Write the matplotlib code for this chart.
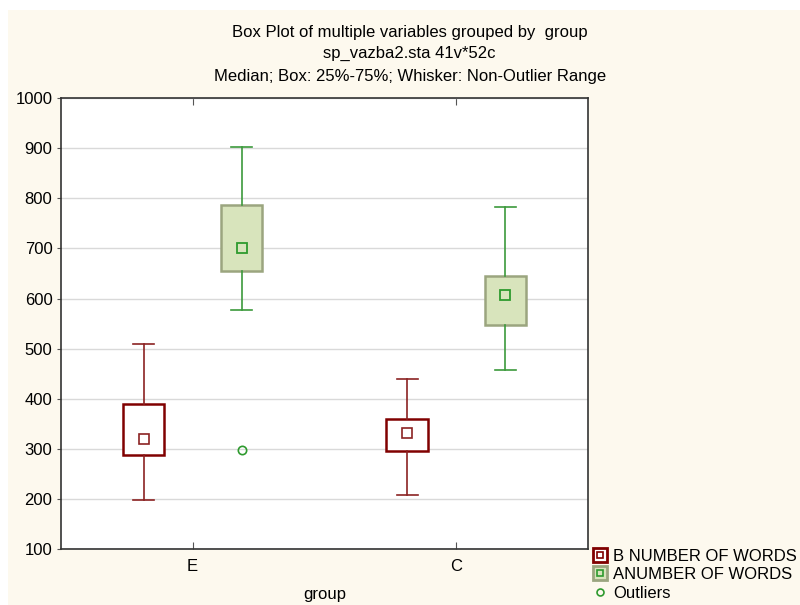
import matplotlib.pyplot as plt
from matplotlib.lines import Line2D
from matplotlib.patches import Rectangle
from matplotlib.legend_handler import HandlerTuple
import numpy as np

plt.rcParams['font.family'] = ['Liberation Sans', 'DejaVu Sans']

groups = ["E", "C"]
# B NUMBER OF WORDS: whisker low, Q1, median, Q3, whisker high
b_low = [198, 208]
b_q1 = [288, 297]
b_med = [321, 331]
b_q3 = [390, 360]
b_high = [510, 440]
# ANUMBER OF WORDS
a_low = [578, 458]
a_q1 = [655, 548]
a_med = [701, 608]
a_q3 = [787, 645]
a_high = [903, 783]
a_outliers = [[299], []]

red = "#800000"
green = "#2E9A2E"
fs = 12

fig = plt.figure(figsize=(8, 6.05), dpi=100, facecolor="white")
# cream panel (white strip on top and left as in the original export)
fig.patches.append(Rectangle((8 / 800, 0), 1, 1 - 10 / 605,
                             transform=fig.transFigure, facecolor="#FDF9EE",
                             edgecolor="none", zorder=-10))
ax = fig.add_axes([0.076, 0.092, 0.659, 0.746])
ax.set_facecolor("white")

def make_stats(low, q1, med, q3, high, fl=None):
    out = []
    for i in range(len(low)):
        out.append(dict(whislo=low[i], q1=q1[i], med=med[i], q3=q3[i],
                        whishi=high[i], mean=med[i],
                        fliers=fl[i] if fl else []))
    return out

x = np.arange(len(groups))
off = 0.186
w = 0.157

ax.bxp(make_stats(b_low, b_q1, b_med, b_q3, b_high), positions=x - off,
       widths=w, patch_artist=True, showmeans=True,
       boxprops=dict(facecolor="white", edgecolor=red, linewidth=1.8),
       whiskerprops=dict(color="#8B2222", linewidth=1.2),
       capprops=dict(color="#8B2222", linewidth=1.2),
       medianprops=dict(visible=False),
       meanprops=dict(marker="s", markersize=7, markerfacecolor="white",
                      markeredgecolor="#8B2222", markeredgewidth=1.2),
       capwidths=0.08, manage_ticks=False)

ax.bxp(make_stats(a_low, a_q1, a_med, a_q3, a_high, a_outliers),
       positions=x + off, widths=w, patch_artist=True, showmeans=True,
       boxprops=dict(facecolor="#D8E4BC", edgecolor="#9BA57F", linewidth=1.8),
       whiskerprops=dict(color="#3C9A3C", linewidth=1.2),
       capprops=dict(color="#3C9A3C", linewidth=1.2),
       medianprops=dict(visible=False),
       meanprops=dict(marker="s", markersize=7, markerfacecolor="#D8E4BC",
                      markeredgecolor=green, markeredgewidth=1.3),
       flierprops=dict(marker="o", markersize=6, markerfacecolor="none",
                       markeredgecolor=green, markeredgewidth=1.2),
       capwidths=0.08, manage_ticks=False)

ax.set_xlim(-0.5, 1.5)
ax.set_ylim(100, 1000)
ax.set_yticks(np.arange(100, 1001, 100))
ax.set_xticks(x)
ax.set_xticklabels(groups)
ax.yaxis.grid(True, color="#D9D9D9", linewidth=1)
ax.set_axisbelow(True)
ax.tick_params(axis="y", direction="out", length=3, pad=3, labelsize=fs,
               color="#555555")
ax.tick_params(axis="x", direction="in", length=5, top=True, labelsize=fs,
               pad=7, color="#555555")
for s in ax.spines.values():
    s.set_color("#333333")
    s.set_linewidth(1.2)
ax.set_xlabel("group", fontsize=fs, labelpad=9)

fig.text(0.512, 0.947, "Box Plot of multiple variables grouped by  group",
         ha="center", va="center", fontsize=fs)
fig.text(0.512, 0.912, "sp_vazba2.sta 41v*52c", ha="center", va="center",
         fontsize=fs)
fig.text(0.512, 0.874, "Median; Box: 25%-75%; Whisker: Non-Outlier Range",
         ha="center", va="center", fontsize=fs)

def sq(size, face, edge, lw):
    return Line2D([], [], linestyle="none", marker="s", markersize=size,
                  markerfacecolor=face, markeredgecolor=edge,
                  markeredgewidth=lw)

handles = [
    (sq(10, "white", red, 2), sq(4.5, "white", red, 1.2)),
    (sq(10, "#D8E4BC", "#9BA57F", 2), sq(4.5, "#D8E4BC", green, 1.2)),
    Line2D([], [], linestyle="none", marker="o", markersize=5,
           markerfacecolor="none", markeredgecolor=green, markeredgewidth=1.2),
]
labels = ["B NUMBER OF WORDS", "ANUMBER OF WORDS", "Outliers"]
fig.legend(handles, labels, loc="lower left", bbox_to_anchor=(0.727, -0.012),
           frameon=False, fontsize=fs, handlelength=0.8, handletextpad=0.4,
           labelspacing=0.2, borderpad=0.2,
           handler_map={tuple: HandlerTuple(ndivide=1, pad=0)})

fig.savefig("out.png", dpi=100, facecolor=fig.get_facecolor())
